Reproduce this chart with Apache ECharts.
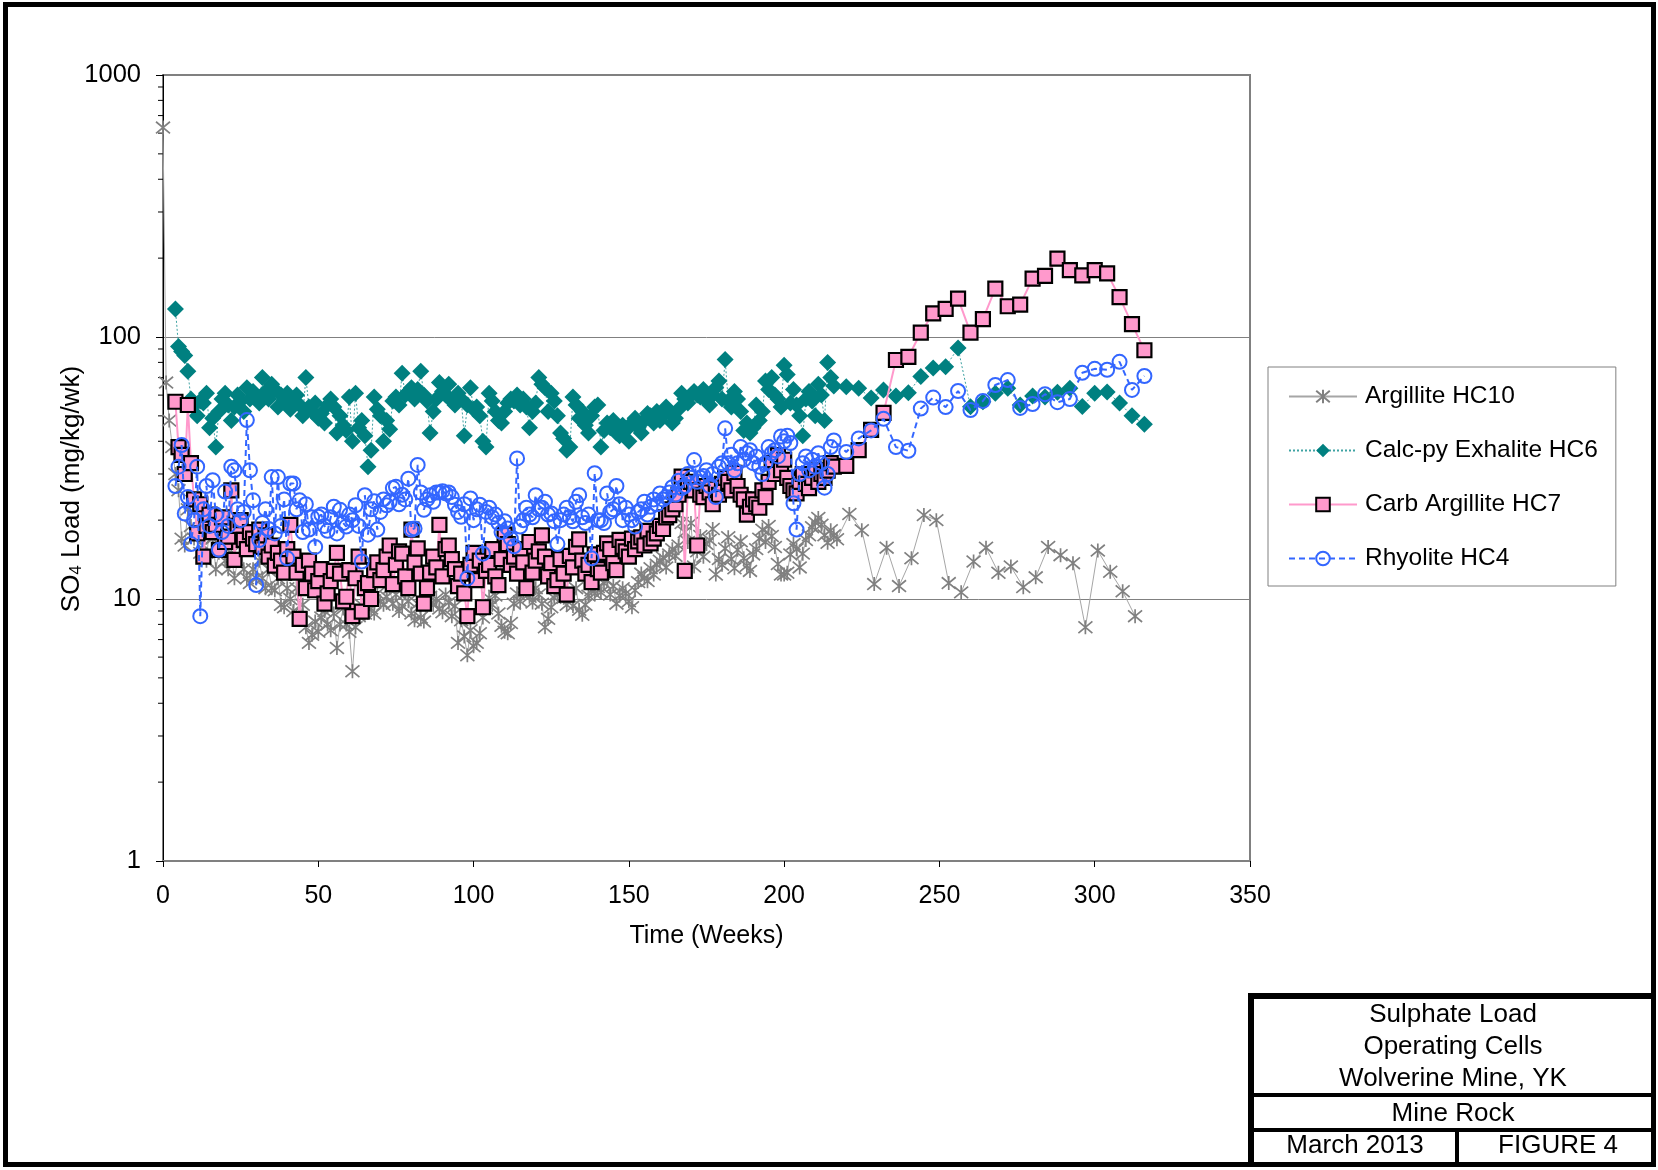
<!DOCTYPE html>
<html>
<head>
<meta charset="utf-8">
<title>Sulphate Load - Operating Cells</title>
<script src="https://cdn.jsdelivr.net/npm/echarts@6/dist/echarts.min.js"></script>
<style>
  html, body { margin: 0; padding: 0; background: #fff; }
  #chart { width: 1658px; height: 1170px; }
</style>
</head>
<body>
<div id="chart"></div>
<script>
// Series names
const seriesNames = ['Argillite HC10', 'Calc-py Exhalite HC6', 'Carb Argillite HC7', 'Rhyolite HC4'];

// Weekly SO4 loads (mg/kg/wk); Argillite HC10 starts at week 0
const hc10Start = 0;
const hc10Weekly = [
  630,
  67, 48, 38, 30, 26, 17, 16, 22, 19, 17,
  18, 15, 16, 14, 19, 17, 13, 15, 16, 14,
  13, 15, 12, 14, 16, 13, 12, 11.5, 13, 12,
  14, 12, 11, 13, 11, 10.8, 12, 9.5, 9.3, 11,
  10, 9, 11, 8.5, 9.5, 7.8, 6.8, 7.3, 8.2, 7.5,
  8.5, 9, 8, 7.6, 8.8, 6.5, 8, 9.2, 8, 7.5,
  5.3, 7.8, 8.6, 9.5, 8.8, 10, 9.2, 8.8, 10.5, 9.8,
  9.5, 10.2, 11, 9.6, 10.4, 9, 9.4, 10.5, 9.8, 8.8,
  8.3, 9.6, 8.5, 8.2, 9.8, 10.2, 9.5, 10, 9.2, 8.9,
  10.4, 9.7, 8.6, 9.4, 6.8, 8.3, 7.2, 6.1, 7.6, 6.6,
  6.8, 7.4, 8.5, 9.2, 10.1, 9.5, 10.3, 8.8, 7.9, 7.5,
  7.4, 8.1, 9.6, 10.5, 9.8, 10.6, 11.2, 10.2, 9.7, 11,
  10.4, 9.6, 7.8, 8.4, 9.3, 10.1, 10.5, 11.2, 10.1, 9.5,
  10.2, 9.4, 11, 9.1, 8.7, 9.5, 10.3, 10.8, 10.5, 11.1,
  10.6, 11.5, 11.8, 10.4, 11.2, 9.6, 10.3, 11, 10.5, 9.8,
  9.3, 10.8, 11.6, 12.5, 12, 11.7, 13.1, 12.4, 13.5, 14,
  14.4, 13.2, 14.8, 15.5, 14.6, 16, 19.5, 18, 16.5, 19.5,
  13.3, 15.2, 17.4, 14.5, 16.2, 16.8, 18.5, 12.4, 14.2, 13.5,
  15.6, 17.2, 14.2, 13.1, 15.4, 16.6, 14.3, 13.4, 12.8, 14.8,
  15.5, 17, 18.4, 16.5, 19, 17.4, 15.8, 13.6, 12.4, 12.4,
  12.6, 14.8, 16.2, 15.5, 13.2, 14.9, 16.8, 17.5, 18.8, 19.6,
  20.4, 19.2, 17.5, 16.4, 18.3, 17.5, 16.9
];
// Four-weekly samples after the weekly period
const hc10LateWeeks = [221, 225, 229, 233, 237, 241, 245, 249, 253, 257, 261, 265,
  269, 273, 277, 281, 285, 289, 293, 297, 301, 305, 309, 313];
const hc10Late = [21.1, 18.3, 11.4, 15.7, 11.2, 14.3, 20.9, 20, 11.5, 10.6, 13.9, 15.7,
  12.6, 13.3, 11.1, 12.1, 15.8, 14.7, 13.7, 7.8, 15.3, 12.7, 10.7, 8.6];

// The other three cells start at week 4
const cellStart = 4;
const lateWeeks = [220, 224, 228, 232, 236, 240, 244, 248, 252, 256, 260, 264, 268,
  272, 276, 280, 284, 288, 292, 296, 300, 304, 308, 312, 316];

const hc6Weekly = [
  128, 92, 88, 85, 74, 58, 55,
  50, 57, 56, 61, 45, 49, 38, 52, 58, 61,
  55, 48, 54, 60, 57, 52, 64, 58, 62, 59,
  56, 70, 62, 58, 66, 63, 54, 60, 57, 61,
  53, 57, 60, 55, 50, 70, 54, 52, 56, 49,
  51, 47, 55, 58, 54, 43, 50, 46, 44, 59,
  40, 61, 45, 48, 42, 32, 37, 59, 53, 50,
  40, 48, 44.5, 57, 59, 55, 72.7, 60, 62, 64,
  58, 63, 74, 60, 57, 43, 52, 58, 67, 62,
  60, 66, 57, 55, 61, 58, 42, 55, 64, 53,
  54, 50, 40, 38, 61, 57, 52, 48, 47, 52,
  56, 58, 57, 60, 55, 58, 54, 45, 52, 56,
  70, 66, 64, 52, 61, 57, 50, 43, 41, 37,
  38, 59, 55, 49, 52, 46, 43, 50, 54, 55,
  38, 44, 47, 45, 48, 43, 42, 46, 44, 40,
  47, 49, 45, 43, 48, 51, 50, 47, 52, 48,
  50, 54, 52, 47, 49, 53, 61, 58, 56, 60,
  62, 60, 59, 63, 57, 55, 60, 64, 68, 58,
  82, 57, 54, 62, 58, 52, 44, 47, 43, 45,
  55, 48, 52, 68, 63, 70, 60, 58, 54, 78,
  72, 56, 63, 55, 50, 42, 58, 62, 57, 50,
  66, 60, 48, 80, 70, 65
];
const hc6Late = [64.6, 63.8, 58.5, 62.8, 59.6, 61.3, 70.6, 76.2, 77, 90.8, 54.2, 56.6, 61,
  63.8, 55, 59.6, 59, 61.6, 63.8, 54.3, 61, 61.7, 56, 50, 46.5];

const hc7Weekly = [
  56.6, 38, 35.5, 30, 55, 33, 24,
  17.8, 23, 14.5, 19, 21, 18, 19.2, 15.4, 20.5, 16.5,
  17.3, 26, 14.1, 19, 20, 16.8, 15.5, 18, 17, 16.2,
  18.4, 15.8, 17.5, 14.5, 16, 13.4, 15, 14, 12.6, 15.5,
  19.2, 14.5, 12.6, 8.4, 13.5, 11, 14, 12.5, 10.8, 11.7,
  13, 9.6, 10.5, 11.7, 12.8, 15, 12.5, 9.8, 10.2, 12.9,
  8.6, 12, 14.5, 8.95, 11, 11.5, 10, 12.9, 13.8, 11.8,
  12.9, 14.5, 16, 11.4, 13.5, 15.2, 14.9, 12.2, 11, 18.4,
  13.8, 15.6, 12.5, 9.6, 11, 12.6, 14.5, 13.2, 19.2, 12.2,
  15.5, 16, 14.2, 13, 11.2, 12.5, 10.5, 8.6, 13.5, 15,
  11.8, 14, 9.3, 12.8, 13.5, 15.5, 12.2, 11.3, 14.2, 17.6,
  16.2, 13.5, 14.5, 12.5, 15.5, 13.8, 11, 16.5, 12.6, 14,
  15.2, 17.5, 14.5, 12.2, 13.7, 11.2, 11.8, 14.2, 12.5, 10.4,
  14.6, 13.2, 15.8, 16.9, 14, 12.5, 13.5, 11.6, 14.8, 13,
  12.6, 15, 16.3, 15.5, 13.7, 12.9, 16.8, 15.8, 15.2, 14.5,
  17, 15.5, 16.6, 17.2, 16, 18.2, 16.3, 17, 17.8, 19,
  18.5, 20.5, 20.9, 22, 23, 25, 29.3, 12.8, 27, 28,
  26, 16, 25, 24.5, 27, 25.5, 23, 26.4, 25, 27.5,
  29, 28, 26, 30.3, 27, 25, 24, 21, 22.5, 24,
  23, 22.3, 26, 24.5, 28, 33, 30, 35.4, 31, 34,
  29, 27, 26, 25.3, 28, 30, 27.5, 26.5, 29, 31,
  28, 30, 29, 30.9, 33, 32
];
const hc7Late = [32.2, 37, 44.2, 51.3, 81.7, 83.9, 104, 123, 128, 140, 104, 117, 153,
  131, 133, 167, 171, 199, 180, 172, 180, 175, 142, 112, 89];

const hc4Weekly = [
  27, 32, 38.7, 21.2, 24.5, 16.2, 20,
  32, 8.6, 22, 27, 19, 28.4, 21, 15.4, 18, 25.7,
  19, 32, 31, 22, 20, 21.5, 48.2, 31, 23.8, 11.3,
  16.8, 19.5, 22, 18.5, 29.2, 17.8, 29.2, 19, 24, 14.3,
  27.6, 27.6, 22, 23.8, 18, 23, 18.4, 20.5, 15.8, 20.6,
  21, 19, 18.2, 20.5, 22.5, 17.8, 21.9, 19.5, 18.9, 21,
  20, 22.8, 19, 13.9, 24.9, 17.6, 22, 23.6, 18.4, 21.5,
  24, 22.8, 23.5, 26.5, 26.8, 23, 25, 24, 28.8, 18.4,
  18.6, 32.5, 25.5, 21.9, 24, 24.9, 23.5, 25.5, 25.5, 25.8,
  25.3, 25.5, 24.5, 22.9, 21.5, 20.6, 23, 12, 24.2, 20,
  22, 22.9, 14.9, 21.5, 22.3, 20.5, 21, 19.5, 18, 19.8,
  18.6, 17, 15.9, 34.4, 18.9, 20, 22.3, 21, 20.5, 24.9,
  22, 22.3, 23.5, 21, 21.2, 19.8, 16.2, 20, 21, 22.3,
  20.5, 19.8, 23.5, 24.9, 20.5, 19.5, 21, 14.3, 30.2, 20,
  20, 19.5, 25.3, 21.5, 22, 27, 23, 20, 22.3, 21,
  20, 18.9, 21.5, 22, 23.5, 21, 22.5, 24, 23, 25.3,
  24, 24.5, 25.5, 26.7, 25, 28.3, 26.5, 27, 30, 29,
  33.9, 28, 29, 29.5, 31, 27, 30, 24.5, 32, 33,
  44.8, 33, 35.5, 31, 33, 38, 34, 36, 37, 33,
  35, 32, 30, 33, 38, 36, 37, 35, 41.7, 40,
  42, 39.4, 23.2, 18.4, 30, 33, 35, 31, 34, 32,
  36, 33, 26.6, 30, 38, 40.3
];
const hc4Late = [36.4, 41, 44, 48.7, 38, 36.8, 53.3, 58.7, 54, 62.2, 52.6, 57, 65.6,
  68.5, 53.6, 55.5, 60.5, 56.4, 58, 73, 75.6, 75, 80.4, 62.8, 71];

// Axis ticks
const xTicks = [0, 50, 100, 150, 200, 250, 300, 350];
const yMinorTicks = [2, 3, 4, 5, 6, 7, 8, 9, 20, 30, 40, 50, 60, 70, 80, 90,
  200, 300, 400, 500, 600, 700, 800, 900];

// Axis titles
const xTitle = 'Time (Weeks)';
const yTitle = '{a|SO}{sub|4}{a| Load (mg/kg/wk)}';

// Title block lines
const titleLines = ['Sulphate Load', 'Operating Cells', 'Wolverine Mine, YK'];
const subTitle = 'Mine Rock';
const dateText = 'March 2013';
const figureText = 'FIGURE 4';

function toPoints(startWeek, weekly, late, lateW) {
  const pts = weekly.map((v, i) => [startWeek + i, v]);
  late.forEach((v, i) => pts.push([lateW[i], v]));
  return pts;
}

const FONT = '"Liberation Sans", Arial, Helvetica, sans-serif';
const asterisk = 'path://M0,1L12,11M12,1L0,11M6,0L6,12';

const chart = echarts.init(document.getElementById('chart'), null, { renderer: 'canvas' });

function blockText(x, y, text) {
  return { type: 'text', z: 101, silent: true, x: x, y: y,
    style: { text: text, font: '26px ' + FONT, fill: '#000', align: 'center', verticalAlign: 'middle' } };
}

const option = {
  animation: false,
  backgroundColor: '#ffffff',
  textStyle: { fontFamily: FONT },
  grid: {
    left: 163, top: 75, width: 1087, height: 786,
    show: true, backgroundColor: '#ffffff',
    borderColor: '#808080', borderWidth: 2
  },
  xAxis: {
    type: 'value', min: xTicks[0], max: xTicks[xTicks.length - 1], interval: 50,
    name: xTitle, nameLocation: 'middle', nameGap: 63,
    nameTextStyle: { fontSize: 25, color: '#000', fontFamily: FONT },
    axisLine: { show: true, lineStyle: { color: '#808080', width: 2 } },
    axisTick: { show: true, inside: false, length: 6, lineStyle: { color: '#000' } },
    axisLabel: { fontSize: 25, color: '#000', margin: 23, fontFamily: FONT },
    splitLine: { show: false }
  },
  yAxis: {
    type: 'log', logBase: 10, min: 1, max: 1000,
    axisLine: { show: true, lineStyle: { color: '#000', width: 1 } },
    axisTick: { show: true, inside: false, length: 7, lineStyle: { color: '#000' } },
    axisLabel: { fontSize: 25.5, color: '#000', margin: 22, fontFamily: FONT,
      formatter: function (v) { return String(Math.round(v)); } },
    splitLine: { show: true, lineStyle: { color: '#808080', width: 1 } }
  },
  legend: {
    data: seriesNames,
    orient: 'vertical',
    left: 1268, top: 367,
    padding: [17, 18, 15, 20],
    itemGap: 29,
    itemWidth: 68, itemHeight: 17,
    backgroundColor: '#ffffff',
    borderColor: '#808080', borderWidth: 1,
    textStyle: { fontSize: 24.5, lineHeight: 24, color: '#000', fontFamily: FONT, padding: [0, 0, 0, 3] }
  },
  series: [
    {
      name: 'minor-ticks', type: 'custom', silent: true, clip: false, z: 1,
      data: yMinorTicks.map(v => [0, v]),
      renderItem: function (params, api) {
        const p = api.coord([api.value(0), api.value(1)]);
        return {
          type: 'line',
          shape: { x1: p[0] - 5, y1: p[1], x2: p[0], y2: p[1] },
          style: { stroke: '#000', lineWidth: 1 }
        };
      }
    },
    {
      name: seriesNames[0], type: 'line',
      data: toPoints(hc10Start, hc10Weekly, hc10Late, hc10LateWeeks),
      showAllSymbol: true, symbol: asterisk, symbolSize: 14,
      itemStyle: { color: '#808080', borderColor: '#808080', borderWidth: 1.7 },
      lineStyle: { color: '#a6a6a6', width: 1 },
      z: 2
    },
    {
      name: seriesNames[1], type: 'line',
      data: toPoints(cellStart, hc6Weekly, hc6Late, lateWeeks),
      showAllSymbol: true, symbol: 'diamond', symbolSize: 17,
      itemStyle: { color: '#008080', borderWidth: 0 },
      lineStyle: { color: '#3fa3a3', width: 1, type: [2, 2] },
      z: 3
    },
    {
      name: seriesNames[2], type: 'line',
      data: toPoints(cellStart, hc7Weekly, hc7Late, lateWeeks),
      showAllSymbol: true, symbol: 'rect', symbolSize: 14,
      itemStyle: { color: '#ff99cc', borderColor: '#000000', borderWidth: 2.2 },
      lineStyle: { color: '#ff99cc', width: 2 },
      z: 4
    },
    {
      name: seriesNames[3], type: 'line',
      data: toPoints(cellStart, hc4Weekly, hc4Late, lateWeeks),
      showAllSymbol: true, symbol: 'circle', symbolSize: 14,
      itemStyle: { color: 'rgba(255,255,255,0)', borderColor: '#3366ff', borderWidth: 2 },
      lineStyle: { color: '#3366ff', width: 2, type: [6, 4] },
      z: 5
    }
  ],
  graphic: [
    // y axis title with subscript
    { type: 'text', z: 50, silent: true, x: 70, y: 489, rotation: Math.PI / 2,
      style: {
        text: yTitle, align: 'center', verticalAlign: 'middle', fill: '#000',
        font: '26px ' + FONT,
        rich: {
          a: { fontSize: 26, lineHeight: 30, verticalAlign: 'bottom', fill: '#000', fontFamily: FONT },
          sub: { fontSize: 17, lineHeight: 14, verticalAlign: 'bottom', fill: '#000', fontFamily: FONT }
        }
      } },
    // page frame
    { type: 'rect', z: 100, silent: true,
      shape: { x: 5.5, y: 4.5, width: 1648, height: 1160 },
      style: { fill: null, stroke: '#000', lineWidth: 5 } },
    // title block
    { type: 'line', z: 100, silent: true, shape: { x1: 1251, y1: 996, x2: 1656, y2: 996 }, style: { stroke: '#000', lineWidth: 6 } },
    { type: 'line', z: 100, silent: true, shape: { x1: 1251, y1: 993, x2: 1251, y2: 1166 }, style: { stroke: '#000', lineWidth: 6 } },
    { type: 'line', z: 100, silent: true, shape: { x1: 1251, y1: 1095, x2: 1656, y2: 1095 }, style: { stroke: '#000', lineWidth: 4 } },
    { type: 'line', z: 100, silent: true, shape: { x1: 1251, y1: 1130, x2: 1656, y2: 1130 }, style: { stroke: '#000', lineWidth: 4 } },
    { type: 'line', z: 100, silent: true, shape: { x1: 1457, y1: 1130, x2: 1457, y2: 1166 }, style: { stroke: '#000', lineWidth: 4 } },
    blockText(1453, 1015, titleLines[0]),
    blockText(1453, 1047, titleLines[1]),
    blockText(1453, 1079, titleLines[2]),
    blockText(1453, 1114, subTitle),
    blockText(1355, 1146, dateText),
    blockText(1558, 1146, figureText)
  ]
};

chart.setOption(option);
</script>
</body>
</html>
